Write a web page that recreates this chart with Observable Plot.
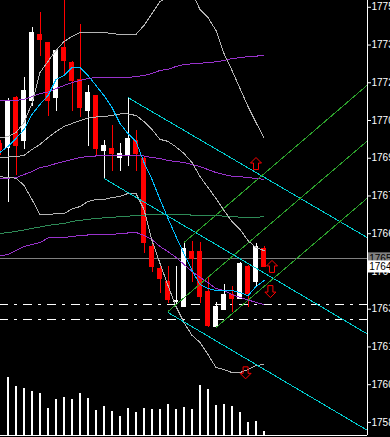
<!DOCTYPE html>
<html><head><meta charset="utf-8">
<script src="https://cdn.jsdelivr.net/npm/d3@7"></script>
<script src="https://cdn.jsdelivr.net/npm/@observablehq/plot@0.6"></script>
<style>html,body{margin:0;padding:0;background:#000;overflow:hidden;}#chart svg{display:block;}</style>
</head><body><div id="chart"></div>
<script>
// ---- data ----
const barIndex = d3.range(-1, 33);
const open  = [1769.84,1769.64,1771.66,1769.92,1771.51,1774.17,1773.85,1771.62,1773.65,1773.06,1772.38,1771.11,1771.74,1769.52,1769.64,1769.24,1769.36,1769.96,1769.24,1765.74,1764.87,1764.35,1763.52,1763.32,1765.54,1765.54,1763.95,1762.52,1763.20,1763.83,1763.64,1764.95,1764.31,1765.66];
const high  = [1769.96,1771.62,1771.70,1772.46,1774.45,1775.04,1773.87,1773.55,1775.90,1773.08,1774.57,1772.14,1771.76,1769.96,1770.55,1769.84,1771.66,1770.35,1769.26,1765.98,1764.99,1764.95,1764.95,1765.90,1765.94,1765.90,1764.51,1763.52,1764.23,1764.15,1765.09,1764.97,1765.86,1765.74];
const low   = [1769.36,1767.49,1768.56,1769.60,1771.31,1773.29,1770.91,1771.11,1772.58,1771.11,1770.87,1769.72,1769.36,1768.45,1768.72,1768.72,1768.92,1768.72,1765.46,1764.71,1763.87,1763.48,1763.44,1763.30,1764.31,1763.48,1762.52,1762.50,1763.18,1763.12,1763.62,1763.32,1764.11,1764.89];
const close = [1769.56,1771.55,1769.72,1771.94,1774.25,1773.93,1771.51,1773.53,1773.10,1772.30,1771.23,1771.86,1769.60,1769.76,1769.40,1769.44,1770.04,1769.40,1765.86,1764.91,1764.43,1763.60,1763.56,1765.66,1765.23,1763.72,1762.56,1763.36,1763.83,1763.64,1765.07,1763.83,1765.74,1764.91];
const volIndex = d3.range(0, 33);
const volume = [580,493,473,443,423,273,363,383,363,423,373,253,293,243,193,273,233,273,263,263,313,263,283,263,503,463,303,313,293,233,133,143,43];

const bbUpper = [1770.07,1770.11,1770.27,1770.67,1771.43,1772.66,1773.10,1773.53,1773.89,1774.09,1774.25,1774.25,1774.25,1774.25,1774.21,1774.17,1774.17,1774.17,1774.53,1775.00,1775.48,1775.64,1775.96,1776.20,1775.84,1775.16,1774.84,1774.33,1773.41,1772.74,1772.02,1771.31,1770.67,1770.07];
const bbMiddle = [1769.28,1769.30,1769.32,1769.36,1769.60,1769.80,1770.07,1770.31,1770.51,1770.63,1770.75,1770.85,1770.89,1770.91,1770.95,1771.01,1771.01,1770.95,1770.71,1770.39,1770.00,1769.92,1769.70,1769.44,1769.08,1768.52,1768.09,1767.65,1767.17,1766.74,1766.42,1765.98,1765.70,1765.58];
const bbLower = [1768.52,1768.48,1768.46,1768.17,1767.61,1767.01,1767.01,1767.05,1767.05,1767.23,1767.33,1767.53,1767.61,1767.61,1767.69,1767.73,1767.85,1767.85,1767.21,1765.98,1765.07,1764.19,1763.36,1762.72,1762.21,1761.93,1761.45,1760.93,1760.85,1760.73,1760.73,1760.85,1761.01,1761.05];
const purpleUpper = [1771.55,1771.55,1771.55,1771.59,1771.70,1771.82,1771.88,1772.02,1772.14,1772.26,1772.34,1772.42,1772.46,1772.46,1772.46,1772.46,1772.46,1772.50,1772.54,1772.62,1772.74,1772.78,1772.90,1772.98,1773.00,1773.02,1773.06,1773.08,1773.14,1773.21,1773.25,1773.29,1773.31,1773.33];
const purpleMiddle = [1768.45,1768.46,1768.48,1768.60,1768.72,1768.88,1768.94,1769.04,1769.12,1769.20,1769.28,1769.32,1769.34,1769.36,1769.36,1769.36,1769.36,1769.36,1769.34,1769.28,1769.24,1769.16,1769.12,1769.08,1769.00,1768.92,1768.80,1768.68,1768.60,1768.54,1768.52,1768.48,1768.45,1768.41];
const purpleLower = [1765.38,1765.42,1765.58,1765.74,1765.82,1765.90,1766.08,1766.10,1766.10,1766.14,1766.18,1766.20,1766.22,1766.22,1766.22,1766.26,1766.28,1766.30,1766.18,1766.02,1765.74,1765.54,1765.31,1765.03,1764.75,1764.51,1764.31,1764.07,1763.99,1763.83,1763.72,1763.62,1763.52,1763.44];
const greenMA = [1766.26,1766.30,1766.34,1766.40,1766.46,1766.52,1766.58,1766.62,1766.66,1766.74,1766.78,1766.82,1766.86,1766.88,1766.90,1766.93,1766.95,1766.97,1766.99,1767.01,1767.01,1767.01,1767.01,1767.01,1766.99,1766.97,1766.97,1766.97,1766.95,1766.93,1766.91,1766.90,1766.90,1766.93];
const fastMA = [1769.48,1769.72,1770.04,1770.39,1770.99,1771.39,1771.74,1772.38,1772.54,1772.86,1772.86,1772.54,1772.14,1771.74,1771.27,1770.63,1770.23,1769.92,1769.08,1768.41,1767.61,1766.86,1766.14,1765.46,1764.79,1764.23,1764.07,1763.99,1763.99,1763.99,1763.91,1763.79,1764.15,1764.39];

// descending (cyan) channel and ascending (green) channel: start / end points
const cyanChannelStartIndex = [15, 12, 20];
const cyanChannelStartPrice = [1771.66, 1768.45, 1763.12];
const cyanChannelEndIndex = [45, 45, 45];
const cyanChannelEndPrice = [1766.08, 1762.25, 1758.42];
const greenChannelStartIndex = [22, 20, 26];
const greenChannelStartPrice = [1765.90, 1763.16, 1762.52];
const greenChannelEndIndex = [45, 45, 45];
const greenChannelEndPrice = [1772.18, 1769.96, 1767.69];

const levelPrices = [1763.43, 1762.83];
const bidPrice = 1765.25;
const lastPrice = 1764.93;

const arrowIndex = [31.0, 33.0, 32.8, 29.7];
const arrowPrice = [1769.04, 1764.95, 1763.95, 1760.72];
const arrowDir = ["up", "up", "down", "down"];

const yTicks = [1775.25,1773.75,1772.25,1770.75,1769.25,1767.75,1766.25,1764.75,1763.25,1761.75,1760.25,1758.75];

// ---- tables ----
const candles = barIndex.map((i, k) => ({i, o: open[k], h: high[k], l: low[k], c: close[k], up: close[k] >= open[k]}));
const vols = volIndex.map((i, k) => ({i, v: volume[k]}));
const series = (vals) => barIndex.map((i, k) => ({i, p: vals[k]}));
const segs = (si, sp, ei, ep) => si.map((s, k) => ({x1: s, y1: sp[k], x2: ei[k], y2: ep[k]}));
const cyanSegs = segs(cyanChannelStartIndex, cyanChannelStartPrice, cyanChannelEndIndex, cyanChannelEndPrice);
const greenSegs = segs(greenChannelStartIndex, greenChannelStartPrice, greenChannelEndIndex, greenChannelEndPrice);
const arrows = arrowIndex.map((x, k) => ({x, p: arrowPrice[k], d: arrowDir[k]}));

const yMin = 1758.23, yMax = 1775.52;
const volToPrice = 0.003975;
const halfBody = 0.3125;

const arrowUp = {draw(ctx, size) {
  const s = Math.sqrt(size / Math.PI) / 5.5;
  ctx.moveTo(0, -6*s); ctx.lineTo(5.5*s, -0.5*s); ctx.lineTo(2.5*s, -0.5*s); ctx.lineTo(2.5*s, 6*s);
  ctx.lineTo(-2.5*s, 6*s); ctx.lineTo(-2.5*s, -0.5*s); ctx.lineTo(-5.5*s, -0.5*s); ctx.closePath();
}};
const arrowDown = {draw(ctx, size) {
  const s = Math.sqrt(size / Math.PI) / 5.5;
  ctx.moveTo(0, 6*s); ctx.lineTo(5.5*s, 0.5*s); ctx.lineTo(2.5*s, 0.5*s); ctx.lineTo(2.5*s, -6*s);
  ctx.lineTo(-2.5*s, -6*s); ctx.lineTo(-2.5*s, 0.5*s); ctx.lineTo(-5.5*s, 0.5*s); ctx.closePath();
}};

const lineOpts = (stroke) => ({x: "i", y: "p", stroke, strokeWidth: 1, clip: true, shapeRendering: "crispEdges"});

const chart = Plot.plot({
  width: 390, height: 437,
  marginLeft: 0, marginRight: 23, marginTop: 0, marginBottom: 2,
  style: {background: "#000", color: "#fff", fontFamily: "'Liberation Sans', Arial, sans-serif", fontSize: "10px", overflow: "hidden"},
  x: {domain: [-0.9375, 44.9375], axis: null},
  y: {domain: [yMin, yMax], axis: "right", ticks: yTicks, tickFormat: d => d.toFixed(2), tickSize: 3, tickPadding: 1, label: null},
  marks: [
    // volume
    Plot.ruleX(vols, {x: "i", y1: () => yMin, y2: d => yMin + d.v * volToPrice, stroke: "#fff", strokeWidth: 1.5, shapeRendering: "crispEdges"}),
    // dash-dot levels
    Plot.ruleY(levelPrices, {stroke: "#fff", strokeWidth: 1, strokeDasharray: "9,6,3,6", strokeDashoffset: 1, shapeRendering: "crispEdges"}),
    // bid line
    Plot.ruleY([bidPrice], {stroke: "#808080", strokeWidth: 1, shapeRendering: "crispEdges"}),
    // candles
    Plot.ruleX(candles, {x: "i", y1: "l", y2: "h", stroke: d => d.up ? "#fff" : "#ff0000", strokeWidth: 1, clip: true, shapeRendering: "crispEdges"}),
    Plot.rect(candles, {x1: d => d.i - halfBody, x2: d => d.i + halfBody, y1: d => Math.min(d.o, d.c), y2: d => Math.max(d.o, d.c) + (Math.abs(d.o - d.c) < 0.04 ? 0.04 : 0), fill: d => d.up ? "#fff" : "#ff0000", clip: true, shapeRendering: "crispEdges"}),
    // indicators
    Plot.line(series(purpleUpper), lineOpts("#9932cc")),
    Plot.line(series(purpleMiddle), lineOpts("#9932cc")),
    Plot.line(series(purpleLower), lineOpts("#9932cc")),
    Plot.line(series(greenMA), lineOpts("#2e8b57")),
    Plot.line(series(bbUpper), lineOpts("#b4b4b4")),
    Plot.line(series(bbMiddle), lineOpts("#b4b4b4")),
    Plot.line(series(bbLower), lineOpts("#b4b4b4")),
    Plot.line(series(fastMA), lineOpts("#00bfff")),
    // channels
    Plot.link(cyanSegs, {x1: "x1", y1: "y1", x2: "x2", y2: "y2", stroke: "#00ced1", strokeWidth: 1, clip: true, shapeRendering: "crispEdges"}),
    Plot.link(greenSegs, {x1: "x1", y1: "y1", x2: "x2", y2: "y2", stroke: "#2ca02c", strokeWidth: 1, clip: true, shapeRendering: "crispEdges"}),
    // arrows
    Plot.dot(arrows.filter(d => d.d === "up"), {x: "x", y: "p", r: 5.5, symbol: arrowUp, fill: "none", stroke: "#ff0000", strokeWidth: 1}),
    Plot.dot(arrows.filter(d => d.d === "down"), {x: "x", y: "p", r: 5.5, symbol: arrowDown, fill: "none", stroke: "#ff0000", strokeWidth: 1}),
    // frame lines
    Plot.ruleX([44.875], {stroke: "#fff", strokeWidth: 1, shapeRendering: "crispEdges"}),
    Plot.ruleY([yMin], {stroke: "#fff", strokeWidth: 1, shapeRendering: "crispEdges"}),
    // price boxes
    Plot.rect([bidPrice], {x1: 45.06, x2: 48, y1: d => d - 0.24, y2: d => d + 0.24, fill: "#808080"}),
    Plot.text([bidPrice], {x: 45.15, y: d => d, text: d => d.toFixed(2), textAnchor: "start", fill: "#000", fontSize: 10}),
    Plot.rect([lastPrice], {x1: 45.06, x2: 48, y1: d => d - 0.24, y2: d => d + 0.24, fill: "#fff"}),
    Plot.text([lastPrice], {x: 45.15, y: d => d, text: d => d.toFixed(2), textAnchor: "start", fill: "#000", fontSize: 10})
  ]
});
document.getElementById("chart").appendChild(chart);
</script>
</body></html>
